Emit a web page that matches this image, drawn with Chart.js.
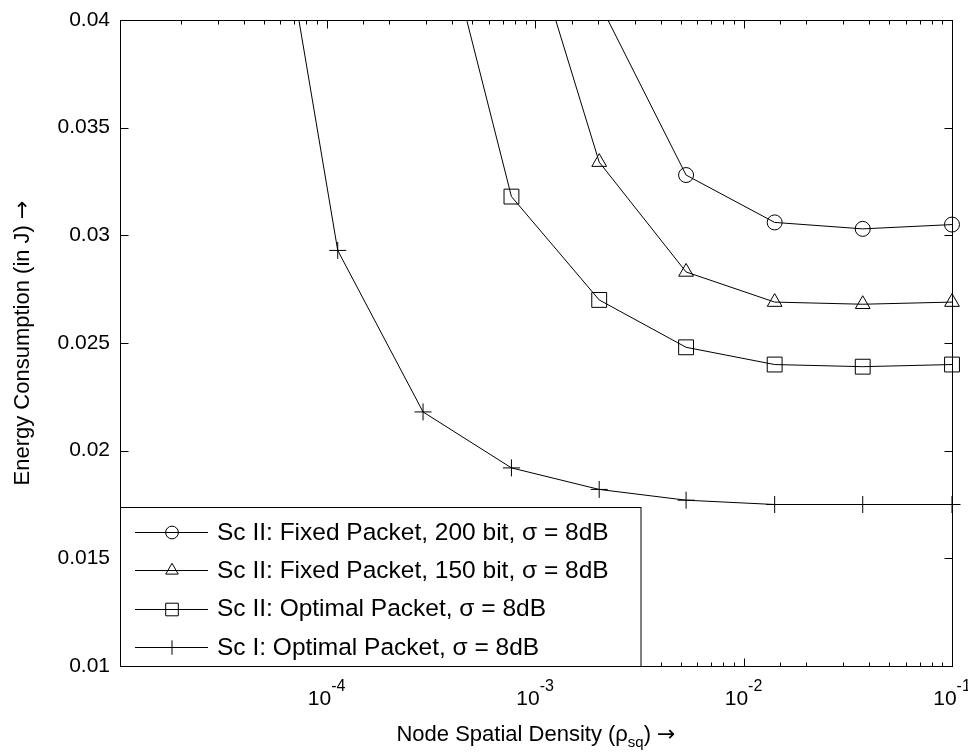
<!DOCTYPE html>
<html>
<head>
<meta charset="utf-8">
<script src="https://cdn.jsdelivr.net/npm/chart.js@4.4.1/dist/chart.umd.min.js"></script>
<style>
  html, body { margin: 0; padding: 0; background: #fff; }
</style>
</head>
<body>
<canvas id="chartEnergy" width="968" height="753"></canvas>
<script>
// node spatial density (x, log scale)
const densidad = [4.3e-5, 1.13e-4, 2.9e-4, 7.7e-4, 2.03e-3, 5.3e-3, 1.41e-2, 3.73e-2, 0.1];

// energy consumption (J), null = no point
const fijo200 = [null, null, null, null, 0.0408, 0.0328, 0.0306, 0.0303, 0.0305];
const fijo150 = [null, null, null, 0.0467, 0.0334, 0.0283, 0.0269, 0.0268, 0.0269];
const optimoII = [null, null, 0.0480, 0.0318, 0.0270, 0.0248, 0.0240, 0.0239, 0.0240];
const optimoI = [0.0534, 0.0293, 0.0218, 0.0192, 0.0182, 0.0177, 0.0175, 0.0175, 0.0175];

const nombres = [
   'Sc II: Fixed Packet, 200 bit, \u03c3 = 8dB',
   'Sc II: Fixed Packet, 150 bit, \u03c3 = 8dB',
   'Sc II: Optimal Packet, \u03c3 = 8dB',
   'Sc I: Optimal Packet, \u03c3 = 8dB'
];
const marcadores = ['circle', 'triangle', 'rect', 'cross'];
const radios = [7.5, 8.5, 10.5, 8.5];

const yTicks = [0.01, 0.015, 0.02, 0.025, 0.03, 0.035, 0.04];

const FONT = "'Liberation Sans', Arial, sans-serif";
const FLECHA = "'DejaVu Sans', sans-serif";

function puntos(serie) {
   return densidad.map((x, i) => ({ x: x, y: serie[i] })).filter(p => p.y !== null);
}

function marca(ctx, estilo, r, x, y) {
   ctx.fillStyle = 'rgba(0,0,0,0)';
   if (Chart.helpers && Chart.helpers.drawPoint) {
      Chart.helpers.drawPoint(ctx, { pointStyle: estilo, radius: r, rotation: 0, borderWidth: 1 }, x, y);
   } else {
      ctx.beginPath();
      ctx.arc(x, y, r, 0, Math.PI * 2);
      ctx.stroke();
   }
   ctx.fillStyle = '#000';
}

// draws [text, font, dy] pieces one after another, centred on cx
function textoPartes(ctx, partes, cx, y) {
   let total = 0;
   partes.forEach(p => { ctx.font = p[1]; total += ctx.measureText(p[0]).width; });
   let x = cx - total / 2;
   ctx.textAlign = 'left';
   partes.forEach(p => {
      ctx.font = p[1];
      ctx.fillText(p[0], x, y + p[2]);
      x += ctx.measureText(p[0]).width;
   });
}

// frame, inward ticks, x labels with exponents, axis titles, legend box
const matlabAxes = {
   id: 'matlabAxes',
   beforeDraw(chart) {
      const ctx = chart.ctx;
      ctx.save();
      ctx.fillStyle = '#fff';
      ctx.fillRect(0, 0, chart.width, chart.height);
      ctx.restore();
   },
   afterDraw(chart) {
      const ctx = chart.ctx;
      const a = chart.chartArea;
      const xs = chart.scales.x;
      const ys = chart.scales.y;
      const L = Math.round(a.left) + 0.5, R = Math.round(a.right) + 0.5;
      const T = Math.round(a.top) + 0.5, B = Math.round(a.bottom) + 0.5;

      ctx.save();
      ctx.strokeStyle = '#000';
      ctx.fillStyle = '#000';
      ctx.lineWidth = 1;

      // ticks
      ctx.beginPath();
      yTicks.forEach(v => {
         const y = Math.round(ys.getPixelForValue(v)) + 0.5;
         ctx.moveTo(L, y); ctx.lineTo(L + 8, y);
         ctx.moveTo(R, y); ctx.lineTo(R - 8, y);
      });
      xs.ticks.forEach(t => {
         const e = Math.log10(t.value);
         const mayor = Math.abs(e - Math.round(e)) < 1e-6;
         const len = mayor ? 8 : 4;
         const x = Math.round(xs.getPixelForValue(t.value)) + 0.5;
         if (x < L || x > R + 1) return;
         ctx.moveTo(x, B); ctx.lineTo(x, B - len);
         ctx.moveTo(x, T); ctx.lineTo(x, T + len);
      });
      ctx.stroke();

      // frame
      ctx.strokeRect(L, T, R - L, B - T);

      // x tick labels 10^n
      ctx.textBaseline = 'alphabetic';
      xs.ticks.forEach(t => {
         const e = Math.log10(t.value);
         if (Math.abs(e - Math.round(e)) > 1e-6) return;
         const x = xs.getPixelForValue(t.value);
         if (x < a.left + 20) return;
         textoPartes(ctx, [['10', '21px ' + FONT, 0], [String(Math.round(e)), '16px ' + FONT, -14]], x, 705);
      });

      // x title with subscript
      textoPartes(ctx, [
         ['Node Spatial Density (\u03c1', '22px ' + FONT, 0],
         ['sq', '15px ' + FONT, 6],
         [') ', '22px ' + FONT, 0],
         ['\u2192', '22px ' + FLECHA, 0]
      ], (a.left + a.right) / 2, 741);

      // y title
      ctx.save();
      ctx.translate(29, (a.top + a.bottom) / 2);
      ctx.rotate(-Math.PI / 2);
      textoPartes(ctx, [
         ['Energy Consumption (in J) ', '22px ' + FONT, 0],
         ['\u2192', '22px ' + FLECHA, 0]
      ], 0, 0);
      ctx.restore();

      // legend box (lower left, inside axes)
      const lx = L, ly = 507.5, lw = 641 - L, lh = B - ly;
      ctx.fillStyle = '#fff';
      ctx.fillRect(lx, ly, lw, lh);
      ctx.strokeRect(lx, ly, lw, lh);
      ctx.fillStyle = '#000';
      chart.data.datasets.forEach((ds, i) => {
         const y = 532 + i * 38.3;
         const yy = Math.round(y) + 0.5;
         ctx.beginPath();
         ctx.moveTo(135, yy); ctx.lineTo(208, yy);
         ctx.stroke();
         marca(ctx, marcadores[i], radios[i] * 0.85, 172, yy);
         ctx.font = '24.5px ' + FONT;
         ctx.textAlign = 'left';
         ctx.textBaseline = 'middle';
         ctx.fillText(ds.label, 217, y + 1);
      });
      ctx.restore();
   }
};

const ctx = document.getElementById('chartEnergy').getContext('2d');
const series = [fijo200, fijo150, optimoII, optimoI];

new Chart(ctx, {
   type: 'line',
   data: {
      datasets: series.map((s, i) => ({
         label: nombres[i],
         data: puntos(s),
         borderColor: '#000',
         borderWidth: 1,
         backgroundColor: 'rgba(0,0,0,0)',
         pointStyle: marcadores[i],
         pointRadius: radios[i],
         pointBorderColor: '#000',
         pointBorderWidth: 1,
         pointBackgroundColor: 'rgba(0,0,0,0)',
         tension: 0,
         clip: { left: 0, top: 0, right: 15, bottom: 0 }
      }))
   },
   options: {
      responsive: false,
      devicePixelRatio: 1,
      animation: false,
      layout: { padding: { left: 0, top: 20, right: 16, bottom: 0 } },
      plugins: {
         legend: { display: false },
         tooltip: { enabled: false }
      },
      scales: {
         x: {
            type: 'logarithmic',
            min: 1.02e-5,
            max: 0.1,
            grid: { display: false, drawTicks: false },
            border: { display: false },
            ticks: { display: false },
            afterFit: function (scale) { scale.height = 87; }
         },
         y: {
            type: 'linear',
            min: 0.01,
            max: 0.04,
            grid: { display: false, drawTicks: true, tickLength: 10 },
            border: { display: false },
            afterBuildTicks: function (scale) { scale.ticks = yTicks.map(v => ({ value: v })); },
            ticks: {
               padding: 0,
               color: '#000',
               font: { family: FONT, size: 21 },
               callback: function (value) { return String(+value.toFixed(3)); }
            },
            afterFit: function (scale) { scale.width = 120; }
         }
      }
   },
   plugins: [matlabAxes]
});
</script>
</body>
</html>
